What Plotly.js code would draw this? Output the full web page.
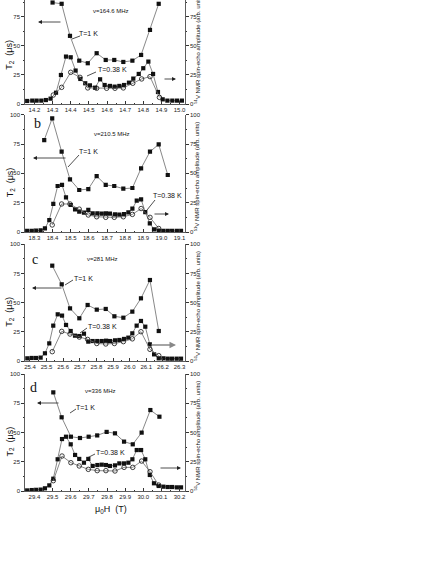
<!DOCTYPE html>
<html>
<head>
<meta charset="utf-8">
<script src="https://cdn.plot.ly/plotly-3.0.1.min.js"></script>
<style>
  html, body { margin: 0; padding: 0; background: #fff; }
  #chart { width: 436px; height: 564px; }
</style>
</head>
<body>
<div id="chart"></div>
<script>
/* ===== data ===== */

// panel a : nu = 164.6 MHz
const xA1 = [14.300, 14.350, 14.396, 14.447, 14.494, 14.543, 14.593, 14.640, 14.690, 14.740, 14.788, 14.837, 14.885];
const yA1 = [87.1, 86.0, 58.5, 37.2, 35.0, 43.6, 37.8, 37.8, 36.1, 37.2, 42.1, 63.6, 86.0];
const xA38 = [14.160, 14.188, 14.212, 14.238, 14.263, 14.289, 14.319, 14.346, 14.374, 14.400, 14.427, 14.453, 14.480, 14.506, 14.534, 14.562, 14.587, 14.616, 14.642, 14.668, 14.694, 14.721, 14.745, 14.775, 14.800, 14.828, 14.854, 14.881, 14.907, 14.933, 14.960, 14.986, 15.013];
const yA38 = [2.6, 2.9, 2.9, 2.9, 3.4, 4.6, 9.7, 24.9, 40.7, 40.1, 28.7, 21.5, 17.8, 16.0, 14.0, 21.2, 16.3, 15.5, 14.9, 15.5, 16.3, 18.3, 21.8, 25.8, 30.7, 36.4, 25.8, 10.3, 4.0, 2.9, 2.9, 2.9, 2.9];
const xAo = [14.304, 14.350, 14.400, 14.451, 14.494, 14.543, 14.598, 14.644, 14.690, 14.742, 14.791, 14.837, 14.889];
const yAo = [7.7, 14.3, 27.2, 22.9, 13.8, 13.5, 13.5, 13.5, 13.8, 17.8, 21.5, 23.5, 5.7];

// panel b : nu = 210.5 MHz
const xB1 = [18.354, 18.398, 18.450, 18.496, 18.547, 18.597, 18.643, 18.693, 18.740, 18.790, 18.840, 18.888, 18.937, 18.985, 19.035];
const yB1 = [78.4, 96.9, 68.5, 44.9, 35.8, 36.6, 47.7, 40.1, 39.2, 36.9, 37.5, 54.3, 68.5, 74.7, 48.6];
const xB38 = [18.260, 18.285, 18.308, 18.334, 18.358, 18.382, 18.404, 18.428, 18.452, 18.474, 18.500, 18.524, 18.547, 18.573, 18.597, 18.621, 18.647, 18.671, 18.694, 18.716, 18.744, 18.768, 18.794, 18.818, 18.840, 18.864, 18.888, 18.911, 18.936, 18.959, 18.985, 19.011, 19.035, 19.059, 19.085, 19.108];
const yB38 = [0.9, 0.9, 1.1, 1.4, 3.1, 10.2, 23.9, 39.2, 40.1, 29.5, 23.0, 19.3, 17.3, 16.5, 18.8, 15.9, 15.9, 15.6, 15.9, 15.6, 15.1, 14.8, 15.3, 16.8, 19.9, 26.7, 27.8, 17.0, 7.4, 2.3, 1.1, 0.9, 0.9, 0.9, 0.9, 0.9];
const xBo = [18.398, 18.450, 18.496, 18.547, 18.597, 18.643, 18.693, 18.740, 18.790, 18.840, 18.888, 18.937, 18.985];
const yBo = [6.0, 23.9, 23.9, 19.5, 14.5, 13.0, 12.5, 12.5, 13.0, 15.0, 20.0, 12.5, 3.0];

// panel c : nu = 281 MHz
const xC1 = [25.534, 25.591, 25.641, 25.697, 25.747, 25.802, 25.856, 25.908, 25.962, 26.016, 26.068, 26.122, 26.175];
const yC1 = [81.7, 65.7, 45.1, 36.6, 48.0, 44.0, 44.6, 38.3, 37.1, 42.3, 53.7, 69.4, 25.7];
const xC38 = [25.384, 25.410, 25.436, 25.464, 25.490, 25.516, 25.540, 25.567, 25.593, 25.617, 25.645, 25.671, 25.697, 25.725, 25.751, 25.777, 25.805, 25.832, 25.858, 25.882, 25.912, 25.938, 25.966, 25.992, 26.016, 26.042, 26.068, 26.094, 26.121, 26.147, 26.175, 26.203, 26.229, 26.255, 26.283, 26.309];
const yC38 = [2.3, 2.6, 2.6, 2.9, 6.6, 15.1, 30.3, 40.0, 38.9, 30.9, 25.7, 21.7, 21.4, 23.4, 16.6, 17.1, 17.1, 17.1, 17.4, 17.1, 17.7, 18.0, 18.9, 20.0, 23.7, 30.3, 34.3, 29.4, 14.3, 5.7, 2.3, 2.3, 2.0, 2.0, 2.0, 2.0];
const xCo = [25.534, 25.591, 25.641, 25.697, 25.747, 25.802, 25.856, 25.908, 25.962, 26.016, 26.068, 26.122, 26.175];
const yCo = [8.0, 25.4, 23.1, 20.5, 18.5, 15.0, 14.6, 15.0, 16.6, 19.0, 25.1, 10.0, 4.6];

// panel d : nu = 336 MHz
const xD1 = [29.504, 29.550, 29.601, 29.651, 29.699, 29.746, 29.798, 29.844, 29.894, 29.942, 29.991, 30.039, 30.089];
const yD1 = [84.3, 63.0, 46.4, 45.3, 46.4, 47.5, 50.5, 49.3, 42.2, 39.9, 49.9, 69.2, 63.5];
const xD38 = [29.360, 29.385, 29.408, 29.434, 29.458, 29.482, 29.504, 29.528, 29.552, 29.574, 29.600, 29.624, 29.647, 29.673, 29.697, 29.721, 29.747, 29.771, 29.794, 29.816, 29.844, 29.868, 29.894, 29.918, 29.940, 29.964, 29.988, 30.011, 30.036, 30.059, 30.085, 30.111, 30.135, 30.159, 30.185, 30.208];
const yD38 = [0.5, 0.8, 1.0, 1.2, 2.3, 4.8, 10.5, 27.1, 44.4, 46.4, 39.9, 30.8, 27.4, 24.2, 27.4, 21.4, 22.2, 22.5, 22.2, 21.4, 21.9, 23.6, 23.6, 24.2, 27.1, 35.0, 35.0, 27.1, 13.7, 6.6, 4.3, 3.7, 3.4, 3.4, 3.1, 3.1];
const xDo = [29.504, 29.552, 29.601, 29.647, 29.697, 29.746, 29.794, 29.844, 29.894, 29.942, 29.991, 30.037, 30.085];
const yDo = [8.8, 29.9, 24.2, 21.4, 18.5, 17.4, 17.4, 17.1, 20.2, 20.2, 25.6, 16.5, 5.1];

const freqLabels = ["ν=164.6 MHz", "ν=210.5 MHz", "ν=281 MHz", "ν=336 MHz"];
const panelLetters = ["a", "b", "c", "d"];

/* ===== layout helpers (pixel -> paper) ===== */
const W = 436, H = 564;
const px = (v) => v / W;
const py = (v) => 1 - v / H;

const plotLeft = 25, plotRight = 185;
// top (value 100) and bottom (value 0) of each panel, in pixels
const panelTop = [-12.5, 114.7, 244.3, 374];
const panelBot = [104, 232, 361, 491];
const xRanges = [[14.148, 15.030], [18.248, 19.130], [25.370, 26.333], [29.348, 30.230]];

const lineCol = "#6a6a6a";
const inkCol = "#111111";
const sans = "Liberation Sans, Arial, sans-serif";

const panels = [
  { x1: xA1, y1: yA1, x38: xA38, y38: yA38, xo: xAo, yo: yAo },
  { x1: xB1, y1: yB1, x38: xB38, y38: yB38, xo: xBo, yo: yBo },
  { x1: xC1, y1: yC1, x38: xC38, y38: yC38, xo: xCo, yo: yCo },
  { x1: xD1, y1: yD1, x38: xD38, y38: yD38, xo: xDo, yo: yDo }
];

let traces = [];
let layout = {
  width: W,
  height: H,
  margin: { l: 0, r: 0, t: 0, b: 0 },
  paper_bgcolor: "#fff",
  plot_bgcolor: "rgba(0,0,0,0)",
  showlegend: false,
  font: { family: sans, color: inkCol, size: 6 },
  annotations: [],
  shapes: []
};

const tickFont = { family: sans, size: 6, color: "#222" };

// small helper so every text is centred on its pixel spot
function label(x, y, text, size, extra) {
  return Object.assign({
    xref: "paper", yref: "paper", x: px(x), y: py(y),
    xanchor: "center", yanchor: "middle",
    text: text, showarrow: false,
    font: { size: size, family: sans, color: inkCol }
  }, extra || {});
}

panels.forEach((p, i) => {
  const n = i + 1;
  const xs = n === 1 ? "" : String(n);
  const yl = n === 1 ? "" : String(n);
  const yr = String(n + 4);

  const visTop = Math.max(panelTop[i], 0);
  const yMax = 100 * (panelBot[i] - visTop) / (panelBot[i] - panelTop[i]);
  const dom = [py(panelBot[i]), py(visTop)];

  layout["xaxis" + xs] = {
    domain: [px(plotLeft), px(plotRight)],
    range: xRanges[i],
    anchor: "y" + yl,
    dtick: 0.1,
    tickformat: ".1f",
    ticks: "inside",
    ticklen: 3,
    tickcolor: "#333",
    minor: { dtick: 0.05, ticks: "inside", ticklen: 1.5, tickcolor: "#333" },
    showline: true,
    linecolor: "#333",
    linewidth: 0.8,
    showgrid: false,
    zeroline: false,
    tickfont: tickFont
  };
  const yBase = {
    domain: dom,
    range: [0, yMax],
    anchor: "x" + xs,
    tickvals: [0, 25, 50, 75, 100],
    ticks: "outside",
    ticklen: 3,
    tickcolor: "#333",
    minor: { tickvals: [12.5, 37.5, 62.5, 87.5], ticks: "outside", ticklen: 1.5, tickcolor: "#333" },
    showline: true,
    linecolor: "#333",
    linewidth: 0.8,
    showgrid: false,
    zeroline: false,
    tickfont: tickFont
  };
  layout["yaxis" + yl] = Object.assign({}, yBase);
  layout["yaxis" + yr] = Object.assign({}, yBase, { overlaying: "y" + yl, side: "right" });

  // amplitude curves (right axis)
  traces.push({
    x: p.x38, y: p.y38, xaxis: "x" + xs, yaxis: "y" + yr,
    type: "scatter", mode: "lines+markers",
    line: { color: lineCol, width: 0.8 },
    marker: { symbol: "square", size: 4.2, color: inkCol }
  });
  traces.push({
    x: p.xo, y: p.yo, xaxis: "x" + xs, yaxis: "y" + yr,
    type: "scatter", mode: "lines+markers",
    line: { color: lineCol, width: 0.8 },
    marker: { symbol: "circle-open", size: 4.5, color: inkCol, line: { width: 0.8, color: inkCol } }
  });
  // T2 at 1 K (left axis)
  traces.push({
    x: p.x1, y: p.y1, xaxis: "x" + xs, yaxis: "y" + yl,
    type: "scatter", mode: "lines+markers",
    line: { color: lineCol, width: 0.8 },
    marker: { symbol: "square", size: 4.2, color: inkCol }
  });

  // axis titles
  const midY = (panelTop[i] + panelBot[i]) / 2;
  layout.annotations.push(label(10, midY + 9, "T<sub>2</sub>  (μs)", 9, { textangle: -90 }));
  layout.annotations.push(label(197, midY + 3, "<sup>51</sup>V NMR spin-echo amplitude (arb. units)", 6, { textangle: -90 }));
});

/* ===== in-panel labels and arrows (pixel positions) ===== */
const freqPos = [[111, 11], [112, 134], [102, 259], [100, 391]];
const letterPos = [null, [37, 124], [35, 259], [33, 387]];
const t1Pos = [[88, 33], [88, 152], [83, 278], [85, 407]];
const t1Line = [[80, 36, 72, 39], [79, 155, 68, 167], [73, 280, 65, 285], [76, 409, 70, 413]];
const t38Pos = [[112, 69], [167, 196], [102, 326], [110, 452]];
const t38Line = [[96, 72, 87, 76], [155, 200, 147, 210], [87, 328, 80, 333], [95, 454, 87, 458]];
const leftArrow = [[62, 38, 22], [67, 33, 158], [63, 32, 288], [60, 37, 403]];
const rightArrow = [[163, 176, 79], [153, 169, 214], [150, 176, 345], [159, 181, 468]];

for (let i = 0; i < 4; i++) {
  layout.annotations.push(label(freqPos[i][0], freqPos[i][1], freqLabels[i], 6));
  if (letterPos[i]) {
    layout.annotations.push(label(letterPos[i][0], letterPos[i][1], panelLetters[i], 14, {
      font: { size: 14, family: "Liberation Serif, Times New Roman, serif", color: inkCol }
    }));
  }
  layout.annotations.push(label(t1Pos[i][0], t1Pos[i][1], "T=1 K", 7));
  layout.annotations.push(label(t38Pos[i][0], t38Pos[i][1], "T=0.38 K", 7));
  [t1Line[i], t38Line[i]].forEach((l) => {
    layout.shapes.push({
      type: "line", xref: "paper", yref: "paper",
      x0: px(l[0]), y0: py(l[1]), x1: px(l[2]), y1: py(l[3]),
      line: { color: "#222", width: 0.8 }
    });
  });
  // arrows: head at given end, tail offset in pixels
  const la = leftArrow[i];
  layout.annotations.push({
    xref: "paper", yref: "paper", x: px(la[1]), y: py(la[2]),
    ax: la[0] - la[1], ay: 0, text: "", showarrow: true,
    arrowhead: 2, arrowsize: 1, arrowwidth: 0.8, arrowcolor: "#222"
  });
  const ra = rightArrow[i];
  layout.annotations.push({
    xref: "paper", yref: "paper", x: px(ra[1]), y: py(ra[2]),
    ax: ra[0] - ra[1], ay: 0, text: "", showarrow: true,
    arrowhead: 2, arrowsize: 1, arrowwidth: i === 2 ? 1.3 : 0.8,
    arrowcolor: i === 2 ? "#888" : "#222"
  });
}

layout.annotations.push(label(111, 509, "μ<sub>0</sub>H  (T)", 9));

Plotly.newPlot("chart", traces, layout, { displayModeBar: false, staticPlot: true });
</script>
</body>
</html>
